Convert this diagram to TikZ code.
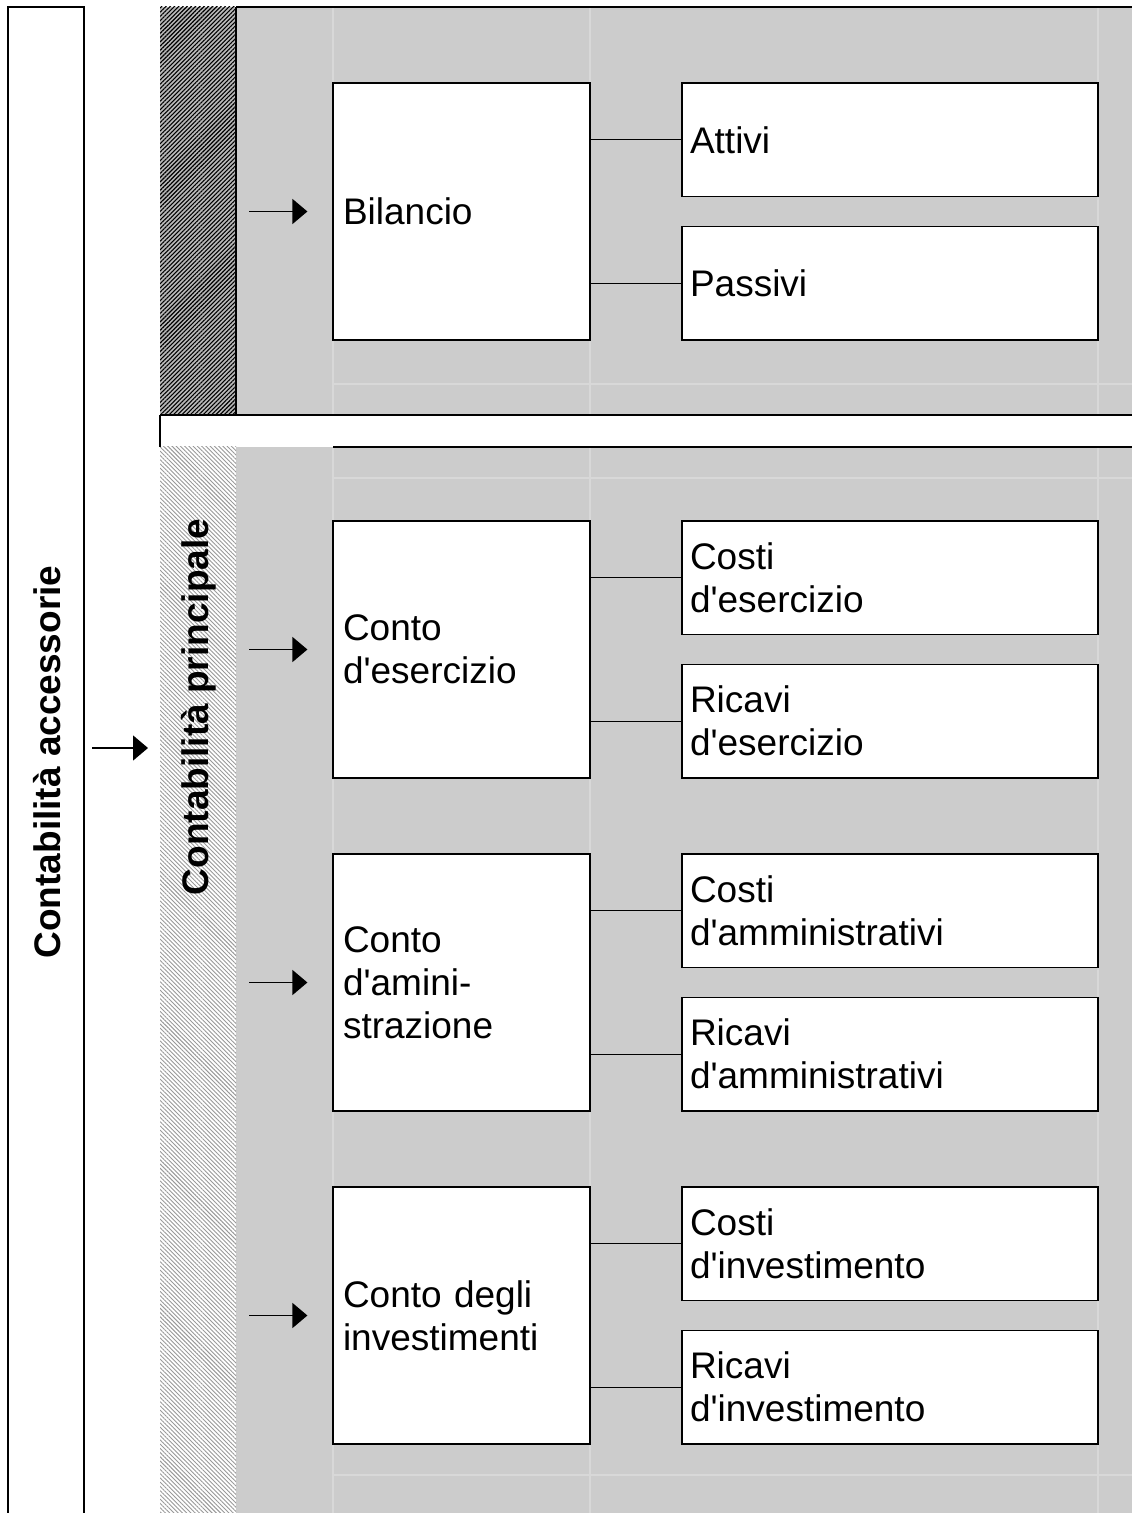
\documentclass[tikz,border=0pt]{standalone}
\usepackage{fontspec}
\setmainfont{Liberation Sans}[Ligatures=TeXOff]
\usepackage{tikz}
\usetikzlibrary{arrows.meta, patterns.meta}
\definecolor{PanelGray}{RGB}{204,204,204}
\definecolor{GridGray}{RGB}{216,216,216}
\newcommand{\boxfont}{\fontsize{18.5}{21.5}\selectfont}

\begin{document}
\begin{tikzpicture}[x=0.5pt, y=-0.5pt,
          bigbox/.style={rectangle, draw, line width=0.6pt, fill=white,
                         minimum width=128.5pt, minimum height=128.5pt,
                         text width=118.5pt, inner xsep=5pt, align=left,
                         font=\boxfont},
          smallbox/.style={rectangle, draw, line width=0.6pt, fill=white,
                           minimum width=208pt, minimum height=56.75pt,
                           text width=200pt, inner xsep=4pt, align=left,
                           font=\boxfont},
          lbl/.style={rotate=90, font=\boxfont\bfseries},
          arr/.style={-{Triangle[length=7.5pt,width=12.5pt]}, line width=0.7pt},
          link/.style={line width=0.5pt},
          edge/.style={line width=0.6pt},
          gridline/.style={GridGray, line width=0.6pt},
          darkhatch/.style={pattern={Lines[angle=45,distance=1.5pt,line width=0.55pt]},
                            pattern color=black},
          lighthatch/.style={pattern={Lines[angle=-45,distance=1.5pt,line width=0.45pt]},
                             pattern color=gray!80}
        ]
        \useasboundingbox (0,0) rectangle (1132,1513);

        % Panels
        \fill[PanelGray] (160,7) rectangle (1132,415);
        \fill[gray!55] (160,7) rectangle (236,415);
        \fill[darkhatch] (160,7) rectangle (236,415);
        \fill[PanelGray] (160,447) rectangle (1132,1513);
        \fill[white] (160,447) rectangle (236,1513);
        \fill[lighthatch] (160,447) rectangle (236,1513);

        % faint cell lines
        \foreach \x in {333, 590, 1098} {
          \draw[gridline] (\x,8) -- (\x,414);
          \draw[gridline] (\x,448) -- (\x,1513);
        }
        \foreach \y in {384, 478, 1475}
          \draw[gridline] (333,\y) -- (1132,\y);

        \draw[edge] (236,7) -- (1132,7);
        \draw[edge] (236,7) -- (236,415);
        \draw[edge] (160,415) -- (1132,415);
        \draw[edge] (160,415) -- (160,447);
        \draw[edge] (333,447) -- (1132,447);

        % Contabilita accessorie
        \draw[edge] (8,1513) |- (84,7) -- (84,1513);
        \node[lbl] (acc) at (47,762) {Contabilità accessorie};
        \node[lbl] (princ) at (199,707) {Contabilità principale};
        \coordinate (acc-out) at (92,748);
        \coordinate (princ-in) at (148,748);
        \draw[arr] (acc-out) -- (princ-in);

        % Conti
        \foreach \n/\y/\txt/\ctxt/\rtxt in {
            bil/211.5/{Bilancio}/{Attivi}/{Passivi},
            ese/649.5/{Conto\\d'esercizio}/{Costi\\d'esercizio}/{Ricavi\\d'esercizio},
            amm/982.5/{Conto\\d'amini-\\strazione}/{Costi\\d'amministrativi}/{Ricavi\\d'amministrativi},
            inv/1315.5/{Conto degli\\investimenti}/{Costi\\d'investimento}/{Ricavi\\d'investimento}} {
          \node[bigbox] (\n) at (461.5,\y) {\txt};
          \node[smallbox] (\n-c) at (890,\y-71.75) {\ctxt};
          \node[smallbox] (\n-r) at (890,\y+71.75) {\rtxt};
          \draw[link] (\n-c.west) -- (\n-c.west -| \n.east);
          \draw[link] (\n-r.west) -- (\n-r.west -| \n.east);
          \coordinate (\n-in) at ([xshift=-41.5pt]\n.west);
          \draw[arr] (\n-in) -- ([xshift=-12.5pt]\n.west);
        }
      \end{tikzpicture}
\end{document}
